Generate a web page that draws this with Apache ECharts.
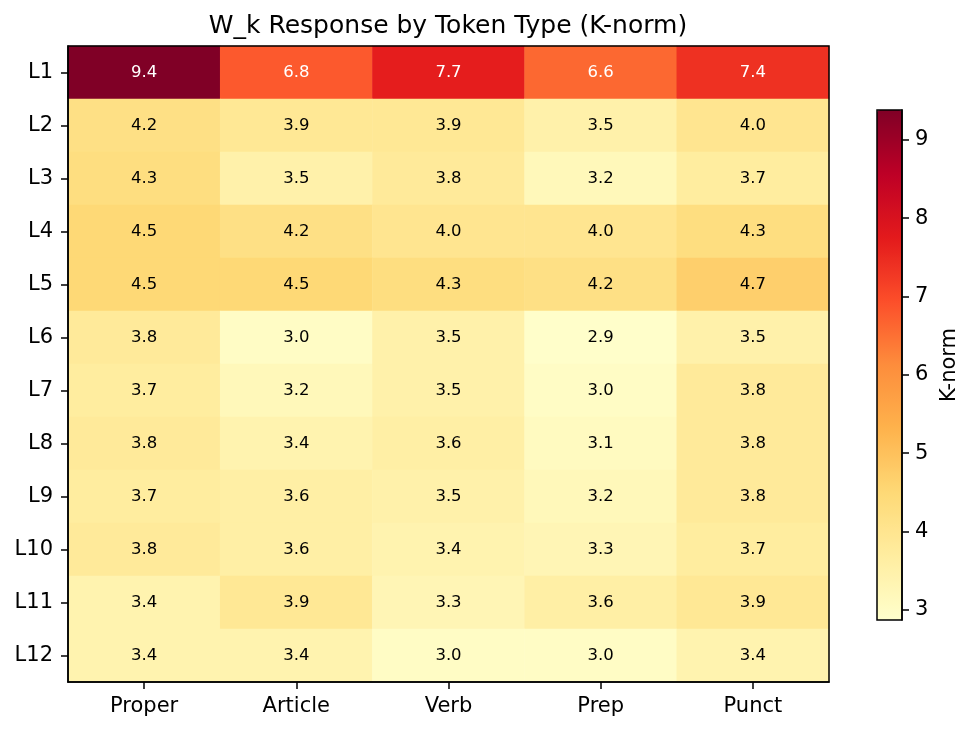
<!DOCTYPE html>
<html>
<head>
<meta charset="utf-8">
<script src="https://cdn.jsdelivr.net/npm/echarts@6/dist/echarts.min.js"></script>
<style>
  html, body { margin: 0; padding: 0; background: #fff; }
  #main { width: 973px; height: 732px; }
</style>
</head>
<body>
<div id="main"></div>
<script>
var tokenTypes = ["Proper", "Article", "Verb", "Prep", "Punct"];
var layers = ["L1", "L2", "L3", "L4", "L5", "L6", "L7", "L8", "L9", "L10", "L11", "L12"];
// one row per layer, columns follow tokenTypes
var kNorm = [
    [9.4, 6.8, 7.7, 6.6, 7.4],
    [4.2, 3.9, 3.9, 3.5, 4.0],
    [4.3, 3.5, 3.8, 3.2, 3.7],
    [4.5, 4.2, 4.0, 4.0, 4.3],
    [4.5, 4.5, 4.3, 4.2, 4.7],
    [3.8, 3.0, 3.5, 2.9, 3.5],
    [3.7, 3.2, 3.5, 3.0, 3.8],
    [3.8, 3.4, 3.6, 3.1, 3.8],
    [3.7, 3.6, 3.5, 3.2, 3.8],
    [3.8, 3.6, 3.4, 3.3, 3.7],
    [3.4, 3.9, 3.3, 3.6, 3.9],
    [3.4, 3.4, 3.0, 3.0, 3.4]
];
var colorMin = 2.87;
var colorMax = 9.38;
var colorbarTicks = [3, 4, 5, 6, 7, 8, 9];
var ylOrRd = ["#ffffcc", "#ffeda0", "#fed976", "#feb24c", "#fd8d3c", "#fc4e2a", "#e31a1c", "#bd0026", "#800026"];

var cells = [];
for (var r = 0; r < layers.length; r++) {
    for (var c = 0; c < tokenTypes.length; c++) {
        var v = kNorm[r][c];
        cells.push({
            value: [c, r, v],
            label: { color: v > 6 ? "#ffffff" : "#000000" }
        });
    }
}

var font = "DejaVu Sans";
var chart = echarts.init(document.getElementById("main"));
var option = {
    backgroundColor: "#ffffff",
    animation: false,
    textStyle: { fontFamily: font },
    title: {
        text: "W_k Response by Token Type (K-norm)",
        left: 443,
        textAlign: "center",
        top: 9,
        textStyle: { fontFamily: font, fontSize: 25, fontWeight: "normal", color: "#000" }
    },
    grid: [
        { left: 68, top: 46, width: 761, height: 636, show: true, borderColor: "#000", borderWidth: 1.5, backgroundColor: "transparent", z: 10 },
        { left: 877, top: 110, width: 25, height: 510, show: true, borderColor: "#000", borderWidth: 1.5, backgroundColor: "transparent", z: 10 }
    ],
    xAxis: [
        {
            type: "category", data: tokenTypes, gridIndex: 0, position: "bottom", z: 20,
            axisLine: { show: true, lineStyle: { color: "#000", width: 1.5 } },
            axisTick: { show: true, alignWithLabel: true, length: 7, lineStyle: { color: "#000", width: 1.5 } },
            axisLabel: { color: "#000", fontSize: 21, margin: 14 },
            splitLine: { show: false }
        },
        { type: "value", gridIndex: 1, show: false, min: 0, max: 1 }
    ],
    yAxis: [
        {
            type: "category", data: layers, gridIndex: 0, inverse: true, z: 20,
            axisLine: { show: true, lineStyle: { color: "#000", width: 1.5 } },
            axisTick: { show: true, alignWithLabel: true, length: 7, lineStyle: { color: "#000", width: 1.5 } },
            axisLabel: { color: "#000", fontSize: 21, margin: 15 },
            splitLine: { show: false }
        },
        {
            type: "value", gridIndex: 1, position: "right", min: colorMin, max: colorMax, z: 20,
            name: "K-norm", nameLocation: "middle", nameGap: 37, nameRotate: 90,
            nameTextStyle: { color: "#000", fontSize: 21, fontFamily: font },
            axisLine: { show: true, onZero: false, lineStyle: { color: "#000", width: 1.5 } },
            splitLine: { show: false },
            axisTick: { show: true, length: 7, customValues: colorbarTicks, lineStyle: { color: "#000", width: 1.5 } },
            axisLabel: { show: true, color: "#000", fontSize: 21, margin: 13, customValues: colorbarTicks }
        }
    ],
    visualMap: {
        type: "continuous",
        seriesIndex: 0,
        dimension: 2,
        min: colorMin,
        max: colorMax,
        calculable: false,
        hoverLink: false,
        realtime: false,
        left: 877,
        top: 110,
        itemWidth: 25,
        itemHeight: 510,
        padding: 0,
        text: null,
        showLabel: false,
        inRange: { color: ylOrRd }
    },
    series: [{
        type: "heatmap",
        xAxisIndex: 0,
        yAxisIndex: 0,
        data: cells,
        label: {
            show: true,
            fontSize: 16.5,
            fontFamily: font,
            formatter: function (p) { return p.value[2].toFixed(1); }
        },
        itemStyle: { borderWidth: 0 }
    }]
};
chart.setOption(option);
</script>
</body>
</html>
